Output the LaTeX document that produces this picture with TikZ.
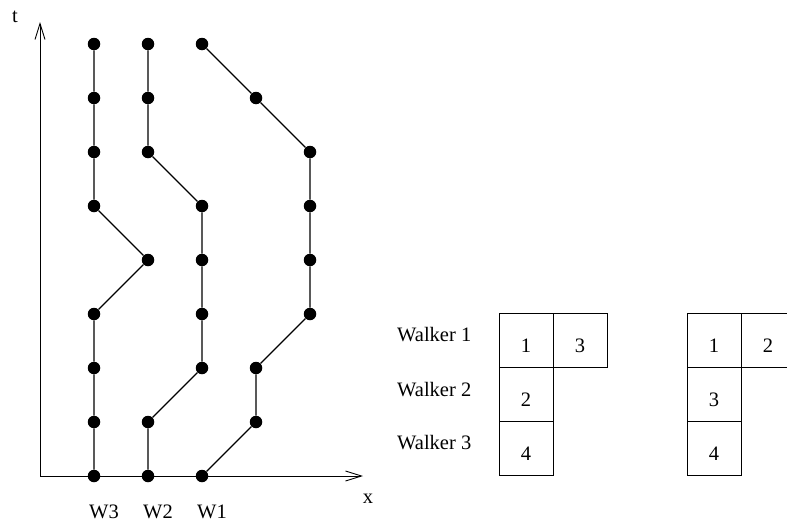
\documentclass[tikz,border=0pt]{standalone}
\usepackage{fontspec}
\setmainfont{Liberation Serif}
\usetikzlibrary{arrows.meta}
\tikzset{
  dot/.style={circle,fill=black,inner sep=0pt,minimum size=12.5pt},
  walk/.style={line width=1.1pt},
  axis/.style={line width=0.9pt,-{Straight Barb[length=16pt,width=10pt,line width=0.9pt]}},
  cell/.style={draw,line width=0.9pt,minimum width=54pt,minimum height=54pt,inner sep=0pt},
  num/.style={font=\fontsize{20.5}{24}\selectfont,inner sep=0pt},
  lab/.style={font=\fontsize{20.5}{24}\selectfont,inner sep=0pt},
}
\begin{document}
\begin{tikzpicture}[x=1pt,y=-1pt]
\useasboundingbox (0,0) rectangle (787,522);
\clip (0,0) rectangle (787,522);

% axes
\coordinate (O) at (40,476);
\coordinate (T) at (40,22);
\coordinate (X) at (363,476);
\draw[axis] (O) -- (T);
\draw[axis] (O) -- (X);
\node[lab,anchor=base] (tlab) at (15,22) {t};
\node[lab,anchor=base] (xlab) at (368,503) {x};

% lattice points of the three walkers (column, row)
\foreach \n/\c/\r in {a0/0/0,a1/0/1,a2/0/2,a3/0/3,a4/1/4,a5/0/5,a6/0/6,a7/0/7,a8/0/8}
  \node[dot] (\n) at ({94+54*\c},{476-54*\r}) {};
\foreach \n/\c/\r in {b0/1/0,b1/1/1,b2/2/2,b3/2/3,b4/2/4,b5/2/5,b6/1/6,b7/1/7,b8/1/8}
  \node[dot] (\n) at ({94+54*\c},{476-54*\r}) {};
\foreach \n/\c/\r in {c0/2/0,c1/3/1,c2/3/2,c3/4/3,c4/4/4,c5/4/5,c6/4/6,c7/3/7,c8/2/8}
  \node[dot] (\n) at ({94+54*\c},{476-54*\r}) {};

% walker paths
\draw[walk] (a0) -- (a1) -- (a2) -- (a3) -- (a4) -- (a5) -- (a6) -- (a7) -- (a8);
\draw[walk] (b0) -- (b1) -- (b2) -- (b3) -- (b4) -- (b5) -- (b6) -- (b7) -- (b8);
\draw[walk] (c0) -- (c1) -- (c2) -- (c3) -- (c4) -- (c5) -- (c6) -- (c7) -- (c8);

% walker labels under the axis
\node[lab,anchor=base] (w3) at (104,518) {W3};
\node[lab,anchor=base] (w2) at (158,518) {W2};
\node[lab,anchor=base] (w1) at (212,518) {W1};

% row labels
\node[lab,anchor=base west] (r1) at (397,341) {Walker 1};
\node[lab,anchor=base west] (r2) at (397,396) {Walker 2};
\node[lab,anchor=base west] (r3) at (397,449) {Walker 3};

% first tableau
\node[cell] (p11) at (526,340) {};
\node[cell] (p12) at (580,340) {};
\node[cell] (p21) at (526,394) {};
\node[cell] (p31) at (526,448) {};
\node[num] at ([yshift=-6pt]p11.center) {1};
\node[num] at ([yshift=-6pt]p12.center) {3};
\node[num] at ([yshift=-6pt]p21.center) {2};
\node[num] at ([yshift=-6pt]p31.center) {4};

% second tableau
\node[cell] (q11) at (714,340) {};
\node[cell] (q12) at (768,340) {};
\node[cell] (q21) at (714,394) {};
\node[cell] (q31) at (714,448) {};
\node[num] at ([yshift=-6pt]q11.center) {1};
\node[num] at ([yshift=-6pt]q12.center) {2};
\node[num] at ([yshift=-6pt]q21.center) {3};
\node[num] at ([yshift=-6pt]q31.center) {4};
\end{tikzpicture}
\end{document}
